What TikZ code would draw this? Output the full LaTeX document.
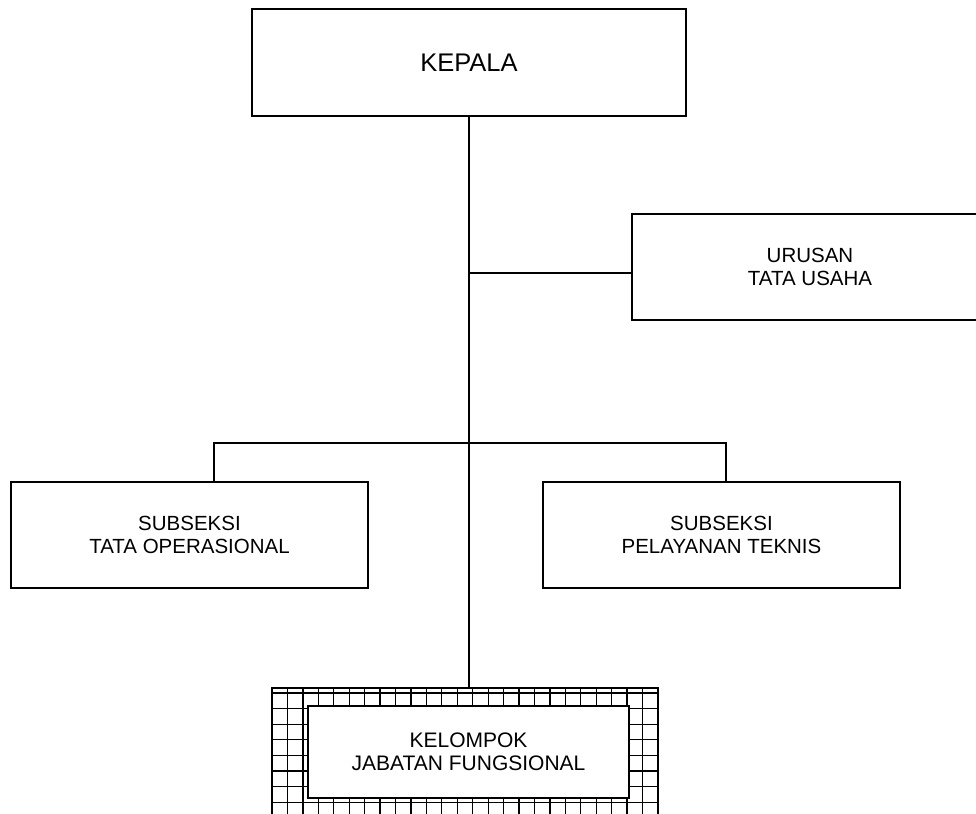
\documentclass[tikz,border=0pt]{standalone}
\usepackage{fontspec}
\setmainfont{Liberation Sans}
\begin{document}
\begin{tikzpicture}[x=1pt,y=-1pt,
  box/.style={draw, line width=1.4pt, fill=white, align=center, inner sep=0pt,
    font=\fontsize{20.5}{23}\selectfont},
  conn/.style={line width=1.1pt},
  gridline/.style={line width=1.3pt}]
\clip (0,0) rectangle (976,813);
\useasboundingbox (0,0) rectangle (976,813);
% nodes
\node[box, minimum width=434, minimum height=107, font=\fontsize{25.5}{28}\selectfont] (kepala) at (469,62.5) {KEPALA};
\node[box, minimum width=356, minimum height=106] (urusan) at (810,267) {URUSAN\\TATA USAHA};
\node[box, minimum width=357, minimum height=106] (sub1) at (189.5,535) {SUBSEKSI\\TATA OPERASIONAL};
\node[box, minimum width=357, minimum height=106] (sub2) at (721.5,535) {SUBSEKSI\\PELAYANAN TEKNIS};
% hatched frame
\node[draw, line width=1.4pt, minimum width=386, minimum height=142, inner sep=0pt] (hatch) at (465,759) {};
\begin{scope}
\clip (272,688) rectangle (658,830);
\foreach \i in {0,...,25} \draw[gridline] (272+\i*15.44,688) -- (272+\i*15.44,830);
\foreach \j in {0,...,8} \draw[gridline] (272,693+\j*15.6) -- (658,693+\j*15.6);
\end{scope}
\node[box, minimum width=321, minimum height=92, font=\fontsize{21}{22.5}\selectfont] (kel) at (468.5,752) {KELOMPOK\\JABATAN FUNGSIONAL};
% connectors
\coordinate (jt) at (469,273);
\coordinate (b1) at (214,443);
\coordinate (b2) at (726,443);
\draw[conn] (kepala.south) -- (kepala.south |- hatch.north);
\draw[conn] (jt) -- (jt -| urusan.west);
\draw[conn] (b1 |- sub1.north) -- (b1) -- (b2) -- (b2 |- sub2.north);
\end{tikzpicture}
\end{document}
